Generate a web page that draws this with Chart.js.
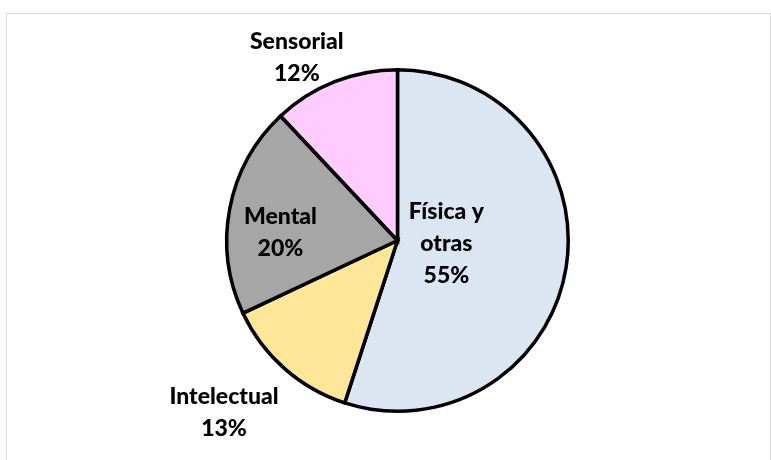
<!DOCTYPE html>
<html lang="es">
<head>
    <meta charset="UTF-8">
    <title>Tipo de discapacidad</title>
    <script src="https://cdn.jsdelivr.net/npm/chart.js"></script>
    <style>
        html, body { margin: 0; padding: 0; background: #ffffff; }
        #wrap { width: 771px; height: 460px; }
    </style>
</head>
<body>
    <div id="wrap"><canvas id="pieChart" width="771" height="460"></canvas></div>
    <script>
        // Data
        const categories = ['Física y otras', 'Intelectual', 'Mental', 'Sensorial'];
        const shares = [55, 13, 20, 12];
        const labelLines = [['Física y', 'otras'], ['Intelectual'], ['Mental'], ['Sensorial']];

        const sliceColors = ['#dce6f2', '#ffe699', '#a6a6a6', '#ffccff'];
        // label placement: radial factor of outer radius, plus pixel nudge
        const labelPlace = [[0.29, 0, -5], [1.43, -12, -11], [0.68, -3, 14], [1.22, -24, 11]];

        const frame = {
            id: 'frame',
            beforeDraw(chart) {
                const { ctx } = chart;
                ctx.save();
                ctx.strokeStyle = '#d9d9d9';
                ctx.lineWidth = 1;
                ctx.strokeRect(6.5, 13.5, 764, 460);
                ctx.restore();
            }
        };

        const sliceLabels = {
            id: 'sliceLabels',
            afterDatasetsDraw(chart) {
                const { ctx } = chart;
                const meta = chart.getDatasetMeta(0);
                ctx.save();
                ctx.fillStyle = '#000000';
                ctx.font = '900 23px Lato, "Open Sans", sans-serif';
                ctx.textAlign = 'center';
                ctx.textBaseline = 'middle';
                meta.data.forEach((arc, i) => {
                    const mid = (arc.startAngle + arc.endAngle) / 2;
                    const [f, dx, dy] = labelPlace[i];
                    const cx = arc.x + Math.cos(mid) * arc.outerRadius * f + dx;
                    const cy = arc.y + Math.sin(mid) * arc.outerRadius * f + dy;
                    const lines = labelLines[i].concat([shares[i] + '%']);
                    const lh = 32;
                    const y0 = cy - (lines.length - 1) * lh / 2;
                    lines.forEach((t, k) => ctx.fillText(t, cx, y0 + k * lh));
                });
                ctx.restore();
            }
        };

        const ctx = document.getElementById('pieChart').getContext('2d');
        new Chart(ctx, {
            type: 'pie',
            data: {
                labels: categories,
                datasets: [{
                    data: shares,
                    backgroundColor: sliceColors,
                    borderColor: '#000000',
                    borderWidth: 3.5,
                    borderJoinStyle: 'miter'
                }]
            },
            options: {
                responsive: false,
                animation: false,
                layout: { padding: { top: 68, bottom: 47, left: 225, right: 201 } },
                plugins: {
                    legend: { display: false },
                    tooltip: { enabled: false }
                }
            },
            plugins: [frame, sliceLabels]
        });
    </script>
</body>
</html>
